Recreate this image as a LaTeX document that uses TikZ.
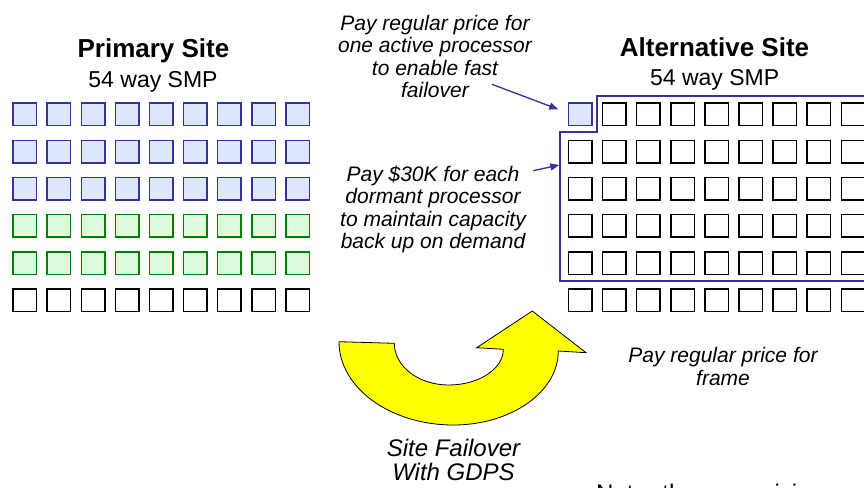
\documentclass[tikz,border=0pt]{standalone}
\usepackage{fontspec}
\setmainfont{Liberation Sans}
\usetikzlibrary{arrows.meta}
\definecolor{cpuBlue}{RGB}{51,51,153}
\definecolor{cpuBlueFill}{RGB}{221,232,255}
\definecolor{cpuGreen}{RGB}{0,128,0}
\definecolor{cpuGreenFill}{RGB}{220,250,220}
\definecolor{turnYellow}{RGB}{255,255,0}
\begin{document}
\begin{tikzpicture}[x=1pt,y=-1pt,
  cpu/.style={rectangle, inner sep=0pt, outer sep=0pt,
    minimum width=23.5pt, minimum height=22.5pt, line width=1.5pt},
  cpuactive/.style={cpu, draw=cpuBlue, fill=cpuBlueFill},
  cpuspare/.style={cpu, draw=cpuGreen, fill=cpuGreenFill},
  cpuidle/.style={cpu, draw=black, fill=white},
  sitetitle/.style={font=\fontsize{26}{30}\selectfont\bfseries, inner sep=0pt, anchor=base},
  sitesub/.style={font=\fontsize{23}{27}\selectfont, inner sep=0pt, anchor=base},
  remark/.style={font=\fontsize{21}{22.3}\selectfont\itshape, align=center, inner sep=0pt, anchor=base},
  callout/.style={draw=cpuBlue, line width=1.3pt, -{Triangle[length=9pt,width=7pt]}},
  capline/.style={draw=cpuBlue, line width=2pt},
]
\useasboundingbox (0,0) rectangle (864,487);

% ---- primary site: 54 processors ----
\node[sitetitle] (primTitle) at (153.5,57.5) {Primary Site};
\node[sitesub] (primSub) at (153,87.5) {54 way SMP};
\foreach \r in {1,2,3}
  \foreach \c in {1,...,9}
    \node[cpuactive] (p-\r-\c) at ({24.8+34.1*(\c-1)},{114.3+37.2*(\r-1)}) {};
\foreach \r in {4,5}
  \foreach \c in {1,...,9}
    \node[cpuspare] (p-\r-\c) at ({24.8+34.1*(\c-1)},{114.3+37.2*(\r-1)}) {};
\foreach \c in {1,...,9}
  \node[cpuidle] (p-6-\c) at ({24.8+34.1*(\c-1)},{114.3+37.2*5}) {};

% ---- alternative site: one active, the rest dormant ----
\node[sitetitle] (altTitle) at (714.5,56.5) {Alternative Site};
\node[sitesub] (altSub) at (714.7,85.5) {54 way SMP};
\node[cpuactive] (a-1-1) at (580.2,114.3) {};
\foreach \c in {2,...,9}
  \node[cpuidle] (a-1-\c) at ({580.2+34.1*(\c-1)},114.3) {};
\foreach \r in {2,...,6}
  \foreach \c in {1,...,9}
    \node[cpuidle] (a-\r-\c) at ({580.2+34.1*(\c-1)},{114.3+37.2*(\r-1)}) {};

% outline round the dormant capacity
\draw[capline] (870,95.7) -- (596.7,95.7) -- (596.7,132.3) -- (560,132.3)
  -- (560,281.3) -- (870,281.3);

% ---- notes and callouts (anchored at the last line's baseline) ----
\node[remark] (activeNote) at (435,97.3)
  {Pay regular price for\\one active processor\\to enable fast\\failover};
\node[remark] (dormantNote) at (433,248.3)
  {Pay \$30K for each\\dormant processor\\to maintain capacity\\back up on demand};
\node[remark] (frameNote) at (723,385) {Pay regular price for\\frame};

\coordinate (activeFrom) at (492,84.3);
\coordinate (activeTip) at (558.3,109.3);
\coordinate (dormantFrom) at (533.3,170.7);
\coordinate (dormantTip) at (559.3,165);
\draw[callout] (activeFrom) -- (activeTip);
\draw[callout] (dormantFrom) -- (dormantTip);

% ---- failover U-turn arrow ----
\draw[fill=turnYellow, draw=black, line width=0.8pt, line join=miter]
  (339,341.7) -- (394.3,343.3)
  .. controls (394.3,366.3) and (418.6,385) .. (448.5,385)
  .. controls (478.7,385) and (503.3,369) .. (503.3,349.3)
  -- (476.7,347.7) -- (532.3,311) -- (586,352.7) -- (558.3,351)
  .. controls (558.3,391.8) and (511.3,425) .. (453.3,425)
  .. controls (390.2,425) and (339,387.7) .. (339,341.7) -- cycle;

\node[font=\fontsize{24}{23.3}\selectfont\itshape, align=center, inner sep=0pt, anchor=base]
  (failNote) at (453.5,480) {Site Failover\\With GDPS};

\node[font=\fontsize{24}{28}\selectfont, inner sep=0pt, anchor=base west]
  (pricingNote) at (596,501) {Note: the new pricing};
\end{tikzpicture}
\end{document}
